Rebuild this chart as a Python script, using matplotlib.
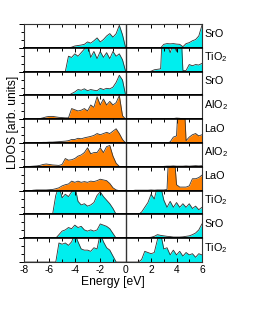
import numpy as np
import matplotlib
matplotlib.use('Agg')
import matplotlib.pyplot as plt
from matplotlib.ticker import MultipleLocator, FixedLocator

plt.rcParams['font.family'] = ['Liberation Sans', 'DejaVu Sans']
plt.rcParams['mathtext.fontset'] = 'custom'
plt.rcParams['mathtext.rm'] = 'Liberation Sans'
plt.rcParams['axes.unicode_minus'] = False

# energy grid in eV (-8 .. 6, 0.25 eV step)
energy = np.linspace(-8, 6, 57)

# layer labels, top to bottom
layers = ['SrO', 'TiO$_2$', 'SrO', 'AlO$_2$', 'LaO', 'AlO$_2$', 'LaO', 'TiO$_2$', 'SrO', 'TiO$_2$']
cyan = '#00EEEE'
orange = '#FF8000'
layer_colors = [cyan, cyan, cyan, orange, orange, orange, orange, cyan, cyan, cyan]

# LDOS per layer (arb. units, panel height = 1)
sro_1 = [0, 0, 0, 0, 0, 0, 0, 0, 0, 0, 0, 0, 0, 0,
         0, .03, .08, .1, .12, .15, .25, .2, .3, .42, .25, .35, .5, .6, .45, .6, .95, .55, 0,
         0, 0, 0, 0, 0, 0, 0, 0, 0, 0, 0,
         .15, .18, .17, .18, .16, .15, .05, .18, .22, .3, .35, .5, .95]
tio2_1 = [0, 0, 0, 0, 0, 0, 0, 0, 0, 0, 0, 0, 0, 0,
          .65, .6, .75, .65, .8, .95, 1.2, .6, .85, .55, .85, .6, .8, .55, .85, .65, .75, .5, 0,
          0, 0, 0, 0, 0, 0, 0,
          .02, .08, .1, .12, 3, 1.2, .8, 1.2, .85, 3, .05, .05, .3, .25, .3, .28, .35]
sro_2 = [0, 0, 0, 0, 0, 0, 0, 0, 0, 0, 0, 0, 0, 0,
         0, .08, .15, .25, .22, .28, .2, .25, .22, .2, .3, .25, .3, .28, .35, .55, .85, .65, 0,
         0, 0, 0, 0, 0, 0, 0, 0, 0, 0, 0,
         .05, .03, .02, .02, .02, .02, .02, .02, .02, .03, .03, .04, .05]
alo2_1 = [0, 0, 0, 0,
          0, .03, .06, .1, .12, .12, .1, .08, .07, .06, .06, .45, .4, .35, .38, .45,
          .35, .6, .5, .95, .6, .85, .6, .75, .6, .7, 1.0, .15, 0,
          0, 0, 0, 0, 0, 0, 0, 0, 0, 0, 0, 0, 0,
          .02, .03, .05, .04, .02, .02, .02, .02, .02, .02, .02]
lao_1 = [0, 0, 0,
         0, .02, .02, .03, .03, .04, .04, .05, .06, .07, .08, .1, .15, .15, .2, .18,
         .22, .25, .28, .32, .4, .35, .4, .45, .4, .5, .6, .4, .15, 0,
         0, 0, 0, 0, 0, 0, 0, 0, 0, 0, 0, 0, 0,
         .05, .25, .3, 3, 3, .1, .25, .35, .4, .3, .35]
alo2_2 = [0, 0,
          .02, .03, .04, .06, .1, .12, .1, .08, .07, .06, .1, .35, .28, .3, .35, .45,
          .5, .6, .8, .55, .6, .6, .8, .6, .85, .9, .45, .15, .02, 0, 0,
          0, 0, 0, 0, 0, 0, 0, 0, 0, 0, 0,
          .02, .03, .03, .04, .03, .03, .03, .04, .03, .04, .05, .04, .05]
lao_2 = [0, 0,
         0, .02, .03, .03, .03, .03, .04, .05, .08, .12, .2, .25, .28, .4, .35, .4,
         .35, .38, .35, .4, .38, .42, .48, .45, .42, .3, .12, .03, 0, 0, 0,
         0, 0, .02, .02, .02, .02, .02, .03, .02, .03, .03, .03, .05, 3, 2,
         .25, .15, .15, .15, .2, .5, .5, .55, .65]
tio2_2 = [0, 0, 0, 0, 0, 0, 0, 0, 0,
          0, .8, 1.2, .7, .85, .75, .95, 1.2, .55, .4, .45, .35, .4, .5, .8, .95,
          .75, .6, .45, .25, 0, 0, 0, 0,
          0, 0, 0, 0,
          .1, .3, .5, .85, .65, 1.2, 1.2, .6, .3, .55, .3, .5, .3, .45, .3, .45,
          .25, .35, .2, .3]
sro_3 = [0, 0, 0, 0, 0, 0, 0, 0, 0, 0,
         0, .15, .3, .35, .45, .4, .55, .45, .5, .35, .3, .35, .3, .35, .6, .55,
         .5, .4, .2, 0, 0, 0, 0,
         0, 0, 0, 0,
         .02, .03, .03, .04, .08, .15, .12, .1, .08, .07, .05, .05, .05, .06, .08, .1,
         .15, .22, .35, .6]
tio2_3 = [0, 0, 0, 0, 0, 0, 0, 0, 0, 0,
          0, .8, .75, .8, .7, .85, 1.2, .85, .55, .5, .5, .45, .6, .55, 1.2, .85,
          .6, .5, .25, 0, 0, 0, 0,
          0, 0, 0, 0,
          .1, .45, .4, .35, .4, .95, 1.2, .55, .6, .3, .5, .3, .45, .25, .4, .3,
          .35, .2, .35, .3]

ldos = [sro_1, tio2_1, sro_2, alo2_1, lao_1, alo2_2, lao_2, tio2_2, sro_3, tio2_3]

fig, axes = plt.subplots(len(layers), 1, figsize=(2.55, 3.30), dpi=100, sharex=True)
fig.subplots_adjust(left=0.094, right=0.792, top=0.927, bottom=0.206, hspace=0)

for i, ax in enumerate(axes):
    ax.fill_between(energy, ldos[i], 0, color=layer_colors[i], lw=0)
    ax.plot(energy, ldos[i], color='#333333', lw=0.6)
    ax.axvline(0, color='#333333', lw=1.0)
    ax.set_xlim(-8, 6)
    ax.set_ylim(0, 1)
    ax.xaxis.set_major_locator(MultipleLocator(2))
    ax.xaxis.set_minor_locator(MultipleLocator(1))
    ax.yaxis.set_major_locator(FixedLocator([0, 1]))
    ax.yaxis.set_minor_locator(FixedLocator([1 / 3, 2 / 3]))
    ax.tick_params(axis='y', which='major', direction='out', length=3.5, width=0.7, labelleft=False)
    ax.tick_params(axis='y', which='minor', direction='out', length=2, width=0.7)
    last = i == len(layers) - 1
    ax.tick_params(axis='x', which='both', direction='in', top=True, bottom=last,
                   width=0.7, labelsize=7.4, pad=2)
    ax.tick_params(axis='x', which='major', length=3)
    ax.tick_params(axis='x', which='minor', length=2.5)
    for side in ['left', 'right']:
        ax.spines[side].set_linewidth(0.8)
        ax.spines[side].set_color('#333333')
    ax.spines['top'].set_linewidth(1.2 if i > 0 else 0.8)
    ax.spines['top'].set_color('black' if i > 0 else '#333333')
    ax.spines['bottom'].set_linewidth(1.2 if not last else 0.8)
    ax.spines['bottom'].set_color('black' if not last else '#333333')
    ax.text(1.012, 0.6, layers[i], transform=ax.transAxes, fontsize=7.8,
            ha='left', va='center')

axes[-1].set_xlabel('Energy [eV]', fontsize=8.7, labelpad=1)
fig.text(0.05, 0.63, 'LDOS [arb. units]', rotation=90, fontsize=8.7,
         ha='center', va='center')

plt.savefig('out.png', dpi=100)
